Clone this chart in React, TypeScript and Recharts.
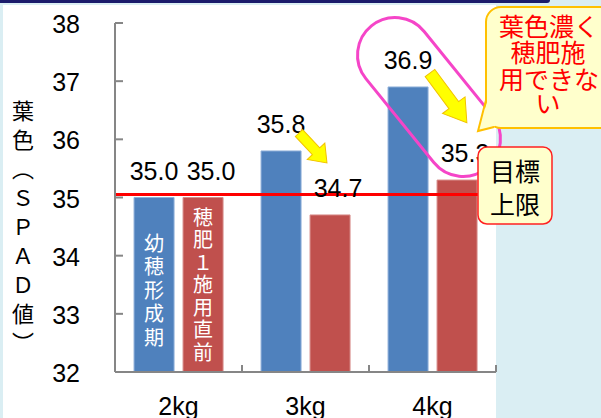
import { Bar, BarChart, LabelList, ReferenceLine, XAxis, YAxis } from "recharts";

// 施肥量ごとの葉色（SPAD値）
const categories = ["2kg", "3kg", "4kg"];
const youngPanicleSpad = [35.0, 35.8, 36.9]; // 幼穂形成期
const beforeTopdressSpad = [35.0, 34.7, 35.3]; // 穂肥1施用直前
const yTicks = [32, 33, 34, 35, 36, 37, 38];
const targetUpper = 35.05; // 目標上限

const chartData = categories.map((name, i) => ({
  name,
  young: youngPanicleSpad[i],
  before: beforeTopdressSpad[i],
}));

const PLOT_LEFT = 115;
const PLOT_BOTTOM = 372;
const HALF_BAND = 63.5;
const AXIS_GREY = "#868686";
const NUM_FONT = "'Liberation Sans', Arial, sans-serif";
const JP_FONT = "'Noto Sans CJK JP', 'Noto Sans', sans-serif";

const renderYTick = (props: { y?: number; payload?: { value: number } }) => {
  const { y = 0, payload } = props;
  return (
    <g>
      <line x1={PLOT_LEFT} x2={PLOT_LEFT + 8} y1={y} y2={y} stroke={AXIS_GREY} strokeWidth={2} />
      <text
        x={80}
        y={y + 1}
        textAnchor="end"
        dominantBaseline="central"
        fontSize={25}
        fontFamily={NUM_FONT}
        fill="#000"
      >
        {payload?.value}
      </text>
    </g>
  );
};

const renderXTick = (props: { x?: number; payload?: { value: string } }) => {
  const { x = 0, payload } = props;
  return (
    <g>
      <line
        x1={x + HALF_BAND}
        x2={x + HALF_BAND}
        y1={PLOT_BOTTOM}
        y2={PLOT_BOTTOM - 7}
        stroke={AXIS_GREY}
        strokeWidth={2}
      />
      <text x={x} y={415} textAnchor="middle" fontSize={25} fontFamily={NUM_FONT} fill="#000">
        {payload?.value}
      </text>
    </g>
  );
};

// 棒の中の縦書き（最初の棒だけ）
const stageText = (text: string, firstOffset: number, step: number) => (props: any) => {
  const { x, y, width, index } = props;
  if (index !== 0) {
    return null;
  }
  const cx = Number(x) + Number(width) / 2;
  const top = Number(y);
  return (
    <text fill="#fff" fontSize={20} fontFamily={JP_FONT} textAnchor="middle" dominantBaseline="central">
      {Array.from(text).map((ch, i) => (
        <tspan key={i} x={cx} y={top + firstOffset + i * step}>
          {ch}
        </tspan>
      ))}
    </text>
  );
};

const arrowPath = (len: number, shaft: number, head: number, headLen: number) =>
  `M0,${-shaft} L${len - headLen},${-shaft} L${len - headLen},${-head} L${len},0 ` +
  `L${len - headLen},${head} L${len - headLen},${shaft} L0,${shaft} Z`;

const App = () => {
  return (
    <div
      style={{
        position: "absolute",
        left: 0,
        top: 0,
        width: 601,
        height: 418,
        overflow: "hidden",
        background: "#DAEEF3",
      }}
    >
      <div
        style={{
          position: "absolute",
          left: 0,
          top: 0,
          width: 550,
          height: 3,
          background: "#1B1B6B",
          borderBottomRightRadius: 3,
        }}
      />
      <div style={{ position: "absolute", left: 3, top: 5, width: 493, height: 413, background: "#fff" }} />

      <div
        style={{
          position: "absolute",
          left: 11,
          top: 100,
          width: 24,
          writingMode: "vertical-rl",
          textOrientation: "upright",
          fontSize: 22,
          letterSpacing: 7,
          fontFamily: JP_FONT,
          color: "#000",
          lineHeight: "24px",
        }}
      >
        葉色（ＳＰＡＤ値）
      </div>

      <div style={{ position: "absolute", left: 0, top: 0 }}>
        <BarChart
          width={601}
          height={418}
          data={chartData}
          margin={{ top: 23, right: 105, bottom: 0, left: 0 }}
          barCategoryGap="15%"
          barGap={9}
        >
          <XAxis
            dataKey="name"
            height={46}
            axisLine={{ stroke: AXIS_GREY, strokeWidth: 2 }}
            tickLine={false}
            tick={renderXTick}
            interval={0}
          />
          <YAxis
            width={115}
            domain={[32, 38]}
            ticks={yTicks}
            allowDataOverflow
            axisLine={{ stroke: AXIS_GREY, strokeWidth: 2 }}
            tickLine={false}
            tick={renderYTick}
            interval={0}
          />
          <Bar dataKey="young" fill="#4F81BD" stroke="#8FB0D9" strokeWidth={1} isAnimationActive={false}>
            <LabelList
              dataKey="young"
              position="top"
              offset={18}
              fontSize={25}
              fontFamily={NUM_FONT}
              fill="#000"
              formatter={(v: any) => Number(v).toFixed(1)}
            />
            <LabelList dataKey="young" content={stageText("幼穂形成期", 44, 23.5)} />
          </Bar>
          <Bar dataKey="before" fill="#C0504D" stroke="#D88C8A" strokeWidth={1} isAnimationActive={false}>
            <LabelList
              dataKey="before"
              position="top"
              offset={18}
              dx={8}
              fontSize={25}
              fontFamily={NUM_FONT}
              fill="#000"
              formatter={(v: any) => Number(v).toFixed(1)}
            />
            <LabelList dataKey="before" content={stageText("穂肥１施用直前", 18, 22.5)} />
          </Bar>
          <ReferenceLine y={targetUpper} stroke="#FF0000" strokeWidth={3} />
        </BarChart>
      </div>

      <svg
        width={601}
        height={418}
        style={{ position: "absolute", left: 0, top: 0, pointerEvents: "none" }}
      >
        {/* 葉色の変化を示す矢印 */}
        <path
          d={arrowPath(41, 5, 12, 16)}
          transform="translate(299,133) rotate(47)"
          fill="#FFFF00"
          stroke="#F2C200"
          strokeWidth={1}
        />
        <path
          d={arrowPath(62, 6, 14, 22)}
          transform="translate(430,73) rotate(53.5)"
          fill="#FFFF00"
          stroke="#F2C200"
          strokeWidth={1}
        />

        {/* 4kgの囲み */}
        <rect
          x={-91.5}
          y={-37.5}
          width={183}
          height={75}
          rx={37.5}
          transform="translate(429,97) rotate(51)"
          fill="none"
          stroke="#F545C8"
          strokeWidth={3}
        />

        {/* 吹き出し */}
        <rect x={486} y={7} width={130} height={121} rx={15} fill="#FFFFCC" stroke="#FFC000" strokeWidth={2} />
        <polygon points="488,99 478,131 495,126 502,114 492,106" fill="#FFFFCC" />
        <polyline points="486,100 478,131 494,127" fill="none" stroke="#FFC000" strokeWidth={2} />
        <text fill="#FF0000" fontSize={25} fontFamily={JP_FONT} textAnchor="middle" dominantBaseline="central">
          <tspan x={549} y={25}>葉色濃く</tspan>
          <tspan x={548} y={51}>穂肥施</tspan>
          <tspan x={549} y={78}>用できな</tspan>
          <tspan x={548} y={102}>い</tspan>
        </text>

        <rect x={478} y={147} width={74} height={77} rx={9} fill="#FFFFCC" stroke="#FF2020" strokeWidth={1.5} />
        <text fill="#000" fontSize={25} fontFamily={JP_FONT} textAnchor="middle" dominantBaseline="central">
          <tspan x={515} y={170}>目標</tspan>
          <tspan x={515} y={203}>上限</tspan>
        </text>
      </svg>
    </div>
  );
};

export default App;
